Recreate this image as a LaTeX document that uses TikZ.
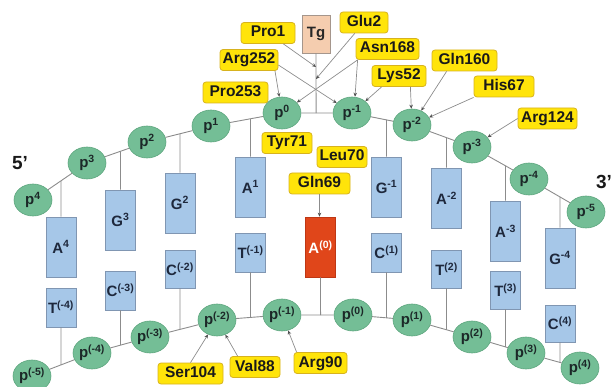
\documentclass[tikz,border=0pt]{standalone}
\usepackage{fontspec}
\setmainfont{Liberation Sans}
\usetikzlibrary{arrows.meta,calc,shapes.geometric}
\definecolor{phgreen}{RGB}{116,190,150}
\definecolor{phedge}{RGB}{92,165,125}
\definecolor{phtext}{RGB}{28,40,40}
\definecolor{baseblue}{RGB}{166,199,232}
\definecolor{baseedge}{RGB}{128,150,178}
\definecolor{basetext}{RGB}{30,40,60}
\definecolor{labyellow}{RGB}{255,228,10}
\definecolor{labedge}{RGB}{215,178,30}
\definecolor{redbase}{RGB}{224,70,26}
\definecolor{rededge}{RGB}{190,55,20}
\definecolor{tgfill}{RGB}{245,205,175}
\definecolor{tgedge}{RGB}{165,150,140}
\definecolor{linegray}{RGB}{140,140,140}
\definecolor{arrowdark}{RGB}{80,80,80}
\tikzset{
  phos/.style={ellipse, fill=phgreen, draw=phedge, line width=0.6pt,
    minimum width=38pt, minimum height=32pt, inner sep=0pt,
    font=\fontsize{15}{15}\selectfont\bfseries, text=phtext},
  basebox/.style={rectangle, fill=baseblue, draw=baseedge, line width=0.7pt,
    minimum width=30pt, inner sep=0pt,
    font=\fontsize{15}{15}\selectfont\bfseries, text=basetext},
  lesion/.style={rectangle, fill=redbase, draw=rededge, line width=0.7pt,
    minimum width=30pt, minimum height=60pt, inner sep=0pt,
    font=\fontsize{15}{15}\selectfont\bfseries, text=white},
  tgbox/.style={rectangle, fill=tgfill, draw=tgedge, line width=0.7pt,
    minimum width=28pt, minimum height=38pt, inner sep=0pt,
    font=\fontsize{15}{15}\selectfont\bfseries, text=black!85},
  lab/.style={rectangle, rounded corners=3pt, fill=labyellow, draw=labedge,
    line width=0.8pt, minimum height=21pt, inner xsep=2pt, inner ysep=0pt,
    text height=11.5pt, text depth=3.5pt,
    font=\fontsize{15.5}{16}\selectfont\bfseries, text=black!90},
  endlab/.style={font=\fontsize{19}{19}\selectfont\bfseries, text=black!90, inner sep=0pt},
  bb/.style={draw=linegray, line width=0.9pt},
  arr/.style={draw=linegray, line width=0.7pt,
    -{Stealth[length=4pt,width=3.5pt,color=arrowdark]}}
}
\begin{document}
\begin{tikzpicture}[x=1pt,y=-1pt]
\useasboundingbox (0,0) rectangle (613,387);
% top strand phosphates
\node[phos] (t4)  at (33,200)  {p\textsuperscript{4}};
\node[phos] (t3)  at (87,163)  {p\textsuperscript{3}};
\node[phos] (t2)  at (147,142) {p\textsuperscript{2}};
\node[phos] (t1)  at (211,126) {p\textsuperscript{1}};
\node[phos] (t0)  at (282,113) {p\textsuperscript{0}};
\node[phos] (tm1) at (352,113) {p\textsuperscript{-1}};
\node[phos] (tm2) at (412,125) {p\textsuperscript{-2}};
\node[phos] (tm3) at (472,147) {p\textsuperscript{-3}};
\node[phos] (tm4) at (529,179) {p\textsuperscript{-4}};
\node[phos] (tm5) at (586,212) {p\textsuperscript{-5}};
% bottom strand phosphates
\node[phos] (bm5) at (32,376)  {p\textsuperscript{(-5)}};
\node[phos] (bm4) at (92,353)  {p\textsuperscript{(-4)}};
\node[phos] (bm3) at (150,337) {p\textsuperscript{(-3)}};
\node[phos] (bm2) at (217,320) {p\textsuperscript{(-2)}};
\node[phos] (bm1) at (282,315) {p\textsuperscript{(-1)}};
\node[phos] (b0)  at (353,315) {p\textsuperscript{(0)}};
\node[phos] (b1)  at (412,320) {p\textsuperscript{(1)}};
\node[phos] (b2)  at (472,337) {p\textsuperscript{(2)}};
\node[phos] (b3)  at (526,353) {p\textsuperscript{(3)}};
\node[phos] (b4)  at (580,368) {p\textsuperscript{(4)}};
% backbones
\draw[bb] (t4) -- (t3) -- (t2) -- (t1) -- (t0) -- (tm1) -- (tm2) -- (tm3) -- (tm4) -- (tm5);
\draw[bb] (bm5) -- (bm4) -- (bm3) -- (bm2) -- (bm1) -- (b0) -- (b1) -- (b2) -- (b3) -- (b4);
% bases
\node[basebox, minimum height=60pt] (a4)  at (61,247)    {A\textsuperscript{4}};
\node[basebox, minimum height=39pt] (tn4) at (61,307.5)  {T\textsuperscript{(-4)}};
\node[basebox, minimum height=60pt] (g3)  at (120.5,220) {G\textsuperscript{3}};
\node[basebox, minimum height=39pt] (cn3) at (120.5,290.5) {C\textsuperscript{(-3)}};
\node[basebox, minimum height=60pt] (g2)  at (180,203)   {G\textsuperscript{2}};
\node[basebox, minimum height=38pt] (cn2) at (180,269)   {C\textsuperscript{(-2)}};
\node[basebox, minimum height=60pt] (a1)  at (250.5,187) {A\textsuperscript{1}};
\node[basebox, minimum height=39pt] (tn1) at (250.5,252.5) {T\textsuperscript{(-1)}};
\node[lesion] (a0) at (320.5,247) {A\textsuperscript{(0)}};
\node[basebox, minimum height=60pt] (gm1) at (386.5,187) {G\textsuperscript{-1}};
\node[basebox, minimum height=39pt] (c1)  at (386.5,252.5) {C\textsuperscript{(1)}};
\node[basebox, minimum height=60pt] (am2) at (446.5,198) {A\textsuperscript{-2}};
\node[basebox, minimum height=38pt] (t2b) at (446.5,269) {T\textsuperscript{(2)}};
\node[basebox, minimum height=60pt] (am3) at (505.5,231) {A\textsuperscript{-3}};
\node[basebox, minimum height=38pt] (t3b) at (505.5,290) {T\textsuperscript{(3)}};
\node[basebox, minimum height=60pt] (gm4) at (560,258)   {G\textsuperscript{-4}};
\node[basebox, minimum height=37pt] (c4)  at (560,323.5) {C\textsuperscript{(4)}};
% base stems to top strand
\draw[bb] (a4.north)  -- (intersection of t4--t3 and a4.north--a4.south);
\draw[bb] (g3.north)  -- (intersection of t3--t2 and g3.north--g3.south);
\draw[bb] (g2.north)  -- (intersection of t2--t1 and g2.north--g2.south);
\draw[bb] (a1.north)  -- (intersection of t1--t0 and a1.north--a1.south);
\draw[bb] (gm1.north) -- (intersection of tm1--tm2 and gm1.north--gm1.south);
\draw[bb] (am2.north) -- (intersection of tm2--tm3 and am2.north--am2.south);
\draw[bb] (am3.north) -- (intersection of tm3--tm4 and am3.north--am3.south);
\draw[bb] (gm4.north) -- (intersection of tm4--tm5 and gm4.north--gm4.south);
% base stems to bottom strand
\draw[bb] (tn4.south) -- (intersection of bm5--bm4 and tn4.north--tn4.south);
\draw[bb] (cn3.south) -- (intersection of bm4--bm3 and cn3.north--cn3.south);
\draw[bb] (cn2.south) -- (intersection of bm3--bm2 and cn2.north--cn2.south);
\draw[bb] (tn1.south) -- (intersection of bm2--bm1 and tn1.north--tn1.south);
\draw[bb] (a0.south)  -- (intersection of bm1--b0 and a0.north--a0.south);
\draw[bb] (c1.south)  -- (intersection of b0--b1 and c1.north--c1.south);
\draw[bb] (t2b.south) -- (intersection of b1--b2 and t2b.north--t2b.south);
\draw[bb] (t3b.south) -- (intersection of b2--b3 and t3b.north--t3b.south);
\draw[bb] (c4.south)  -- (intersection of b3--b4 and c4.north--c4.south);
% Tg lesion
\node[tgbox] (tg) at (316,34) {Tg};
\draw[bb] (tg.south) -- (intersection of t0--tm1 and tg.south--tg.north);
\coordinate (s1) at (tg.south |- 0,67);
\coordinate (s2) at (tg.south |- 0,79);
% labels
\node[lab, minimum width=54pt] (pro1)   at (268,33)    {Pro1};
\node[lab, minimum width=48pt] (glu2)   at (364,22.5)  {Glu2};
\node[lab, minimum width=58pt] (arg252) at (249,60)    {Arg252};
\node[lab, minimum width=63pt] (asn168) at (387.5,49)  {Asn168};
\node[lab, minimum width=54pt] (lys52)  at (399,76)    {Lys52};
\node[lab, minimum width=65pt] (gln160) at (464.5,60.5){Gln160};
\node[lab, minimum width=60pt] (his67)  at (504,86.5)  {His67};
\node[lab, minimum width=59pt] (arg124) at (547.5,118.5){Arg124};
\node[lab, minimum width=65pt] (pro253) at (235.5,92.5){Pro253};
\node[lab, minimum width=50pt] (tyr71)  at (287,143)   {Tyr71};
\node[lab, minimum width=50pt] (leu70)  at (342,157)   {Leu70};
\node[lab, minimum width=61pt] (gln69)  at (319.5,183.5){Gln69};
\node[lab, minimum width=65pt] (ser104) at (190.5,373.5){Ser104};
\node[lab, minimum width=50pt] (val88)  at (255,367)   {Val88};
\node[lab, minimum width=53pt] (arg90)  at (320.5,363) {Arg90};
% interaction arrows
\draw[arr] (pro1) -- (s1);
\draw[arr] (glu2) -- (s2);
\draw[arr] ([xshift=26pt]arg252.south) -- (t0);
\draw[arr] ([yshift=-5pt]arg252.east) -- (tm1);
\draw[arr] ([xshift=2pt]asn168.south west) -- (t0);
\draw[arr] ([xshift=2pt]asn168.south west) -- ([xshift=3pt]tm1.north);
\draw[arr] ([xshift=10pt]lys52.south west) -- (tm1);
\draw[arr] ([xshift=-16pt]lys52.south east) -- (tm2);
\draw[arr] ([xshift=15pt]gln160.south west) -- (tm2);
\draw[arr] (his67.south west) -- (tm2);
\draw[arr] (arg124.west) -- (tm3);
\draw[arr] (gln69.south) -- (gln69.south |- a0.north);
\draw[arr] (ser104.north) -- (bm2);
\draw[arr] ([xshift=8pt]val88.north west) -- (bm2);
\draw[arr] ([xshift=3pt]arg90.north west) -- (bm1);
% strand ends
\node[endlab] (five)  at (20,163)  {5'};
\node[endlab] (three) at (604,182) {3'};
\end{tikzpicture}
\end{document}
